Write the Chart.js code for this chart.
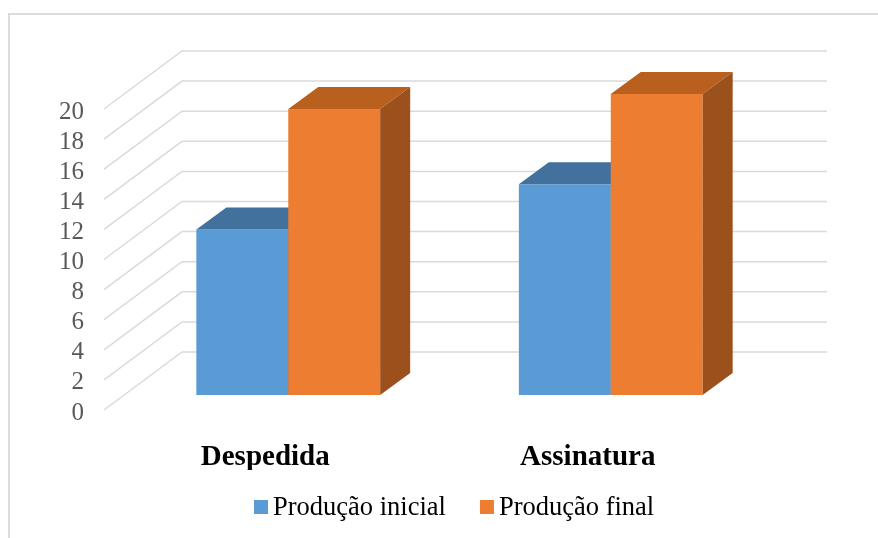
<!DOCTYPE html>
<html>
<head>
<meta charset="utf-8">
<script src="https://cdn.jsdelivr.net/npm/chart.js@4"></script>
<style>
  html, body { margin: 0; padding: 0; background: #fff; overflow: hidden; }
  body { width: 878px; height: 538px; position: relative; }
  #moldura {
    position: absolute; left: 8px; top: 13px; width: 1000px; height: 1000px;
    border: 2px solid #dcdcdc; box-sizing: border-box;
  }
  #grafico { position: absolute; left: 0; top: 0; }
</style>
</head>
<body>
<div id="moldura"></div>
<canvas id="grafico" width="878" height="538"></canvas>
<script>
// Dados do gráfico
const categorias = ['Despedida', 'Assinatura'];
const producaoInicial = [11, 14];
const producaoFinal = [19, 20];
const nomesSeries = ['Produção inicial', 'Produção final'];
const ticksY = [0, 2, 4, 6, 8, 10, 12, 14, 16, 18, 20];

// cores: frente, topo, lateral
const coresFrente = ['#5b9bd5', '#ed7d31'];
const coresTopo = ['#41719c', '#b9601f'];
const coresLado = ['#38648d', '#9c501c'];

const serif = "'Liberation Serif', 'Times New Roman', serif";

// deslocamentos da perspectiva
const profundidade = { x: 78, y: -58 }; // do plano frontal até a parede do fundo
const recuoBarras = { x: 23, y: -15 };   // as barras ficam um pouco atrás do plano frontal
const espessura = { x: 30, y: -22 };     // profundidade de cada barra

// parede do fundo com as linhas de grade e as diagonais do lado esquerdo
const paredeFundo = {
    id: 'paredeFundo',
    beforeDatasetsDraw(chart) {
        const { ctx, chartArea, scales } = chart;
        ctx.save();
        ctx.strokeStyle = '#dadada';
        ctx.lineWidth = 1.5;
        ticksY.forEach(v => {
            const py = scales.y.getPixelForValue(v);
            ctx.beginPath();
            ctx.moveTo(chartArea.left, py);
            ctx.lineTo(chartArea.left + profundidade.x, py + profundidade.y);
            ctx.lineTo(chartArea.right + profundidade.x, py + profundidade.y);
            ctx.stroke();
        });
        ctx.restore();
    }
};

// barras em 3D desenhadas a partir dos elementos calculados pelo Chart.js
const barras3d = {
    id: 'barras3d',
    beforeDatasetDraw() {
        return false; // o desenho padrão é substituído abaixo
    },
    afterDatasetsDraw(chart) {
        const ctx = chart.ctx;
        const lista = [];
        chart.data.datasets.forEach((ds, i) => {
            chart.getDatasetMeta(i).data.forEach(el => {
                lista.push({ p: el.getProps(['x', 'y', 'base', 'width'], true), serie: i });
            });
        });
        lista.sort((a, b) => a.p.x - b.p.x);

        ctx.save();
        lista.forEach(({ p, serie }) => {
            const esq = p.x - p.width / 2 + recuoBarras.x;
            const dir = p.x + p.width / 2 + recuoBarras.x;
            const topo = p.y + recuoBarras.y;
            const base = p.base + recuoBarras.y;

            // frente
            ctx.fillStyle = coresFrente[serie];
            ctx.fillRect(esq, topo, dir - esq, base - topo);

            // topo
            ctx.fillStyle = coresTopo[serie];
            ctx.beginPath();
            ctx.moveTo(esq, topo);
            ctx.lineTo(esq + espessura.x, topo + espessura.y);
            ctx.lineTo(dir + espessura.x, topo + espessura.y);
            ctx.lineTo(dir, topo);
            ctx.closePath();
            ctx.fill();

            // lateral
            ctx.fillStyle = coresLado[serie];
            ctx.beginPath();
            ctx.moveTo(dir, topo);
            ctx.lineTo(dir + espessura.x, topo + espessura.y);
            ctx.lineTo(dir + espessura.x, base + espessura.y);
            ctx.lineTo(dir, base);
            ctx.closePath();
            ctx.fill();
        });
        ctx.restore();
    }
};

// legenda embaixo, com o quadrado colado ao texto
const legenda = {
    id: 'legendaSimples',
    afterDraw(chart) {
        const ctx = chart.ctx;
        ctx.save();
        ctx.font = '26.5px ' + serif;
        ctx.textBaseline = 'alphabetic';
        let x = 254;
        chart.data.datasets.forEach(ds => {
            ctx.fillStyle = ds.backgroundColor;
            ctx.fillRect(x, 500, 14, 14);
            ctx.fillStyle = '#000';
            ctx.fillText(ds.label, x + 19, 515);
            x += 19 + ctx.measureText(ds.label).width + 34;
        });
        ctx.restore();
    }
};

const ctx = document.getElementById('grafico').getContext('2d');
new Chart(ctx, {
    type: 'bar',
    data: {
        labels: categorias,
        datasets: [
            { label: nomesSeries[0], data: producaoInicial, backgroundColor: coresFrente[0] },
            { label: nomesSeries[1], data: producaoFinal, backgroundColor: coresFrente[1] }
        ]
    },
    options: {
        responsive: false,
        devicePixelRatio: 1,
        animation: false,
        categoryPercentage: 0.57,
        barPercentage: 1,
        layout: { padding: { left: 0, top: 109, right: 129, bottom: 68 } },
        plugins: {
            legend: { display: false },
            tooltip: { enabled: false }
        },
        scales: {
            x: {
                grid: { display: false },
                border: { display: false },
                ticks: {
                    color: '#000',
                    padding: 22,
                    font: { family: serif, size: 29, weight: 'bold' }
                },
                afterFit(s) { s.height = 60; }
            },
            y: {
                min: 0,
                max: 20,
                grid: { display: false, drawTicks: false, tickLength: 0 },
                border: { display: false },
                ticks: {
                    stepSize: 2,
                    autoSkip: false,
                    color: '#595959',
                    padding: 20,
                    labelOffset: 3,
                    font: { family: serif, size: 25 }
                },
                afterBuildTicks(s) { s.ticks = ticksY.map(v => ({ value: v })); },
                afterFit(s) { s.width = 104; }
            }
        }
    },
    plugins: [paredeFundo, barras3d, legenda]
});
</script>
</body>
</html>
